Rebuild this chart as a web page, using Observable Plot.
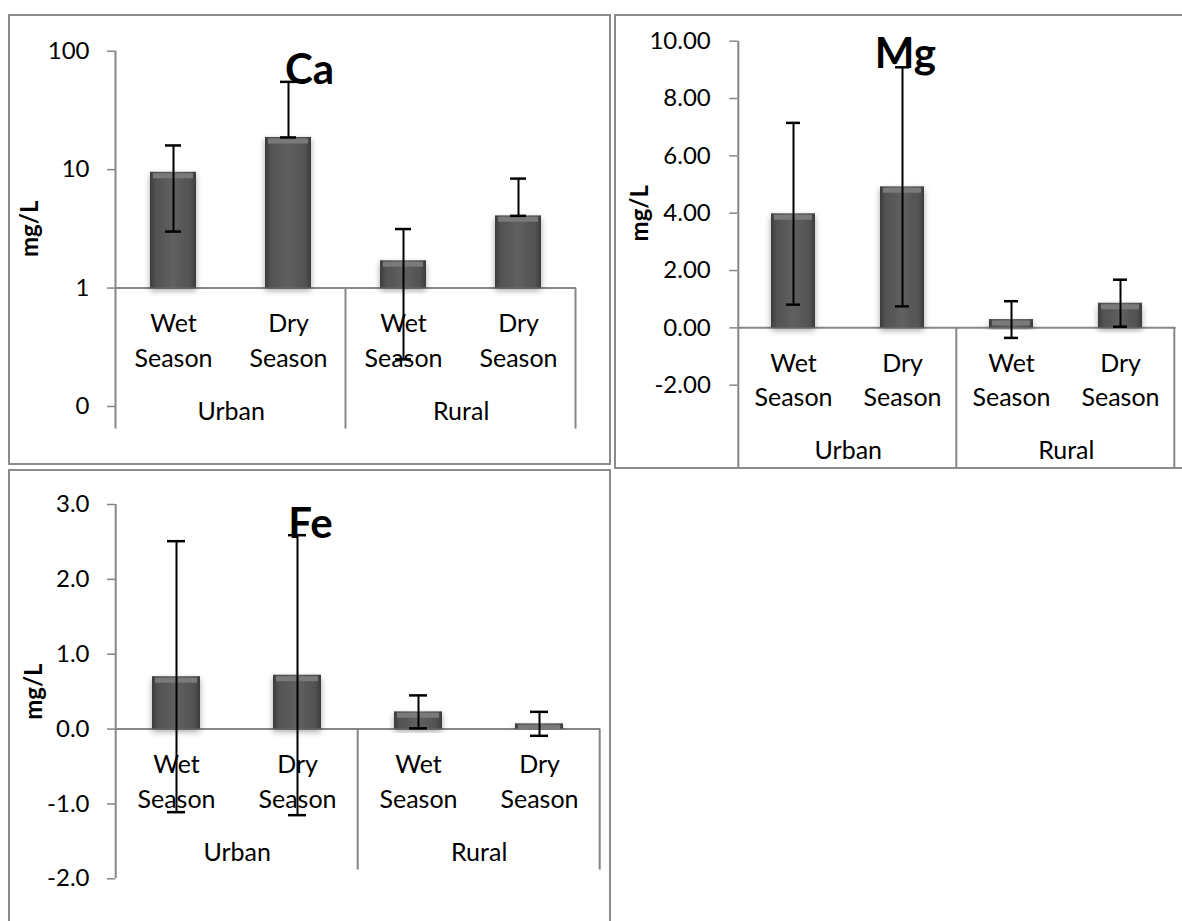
<!DOCTYPE html>
<html><head><meta charset="utf-8">
<script src="https://cdn.jsdelivr.net/npm/d3@7"></script>
<script src="https://cdn.jsdelivr.net/npm/@observablehq/plot@0.6"></script>
<style>
body{margin:0;background:#fff;}
#page{position:relative;width:1182px;height:921px;overflow:hidden;font-family:Lato,"Open Sans",sans-serif;background:#fff;}
.panel{position:absolute;border:2px solid #8c8c8c;box-sizing:border-box;background:#fff;}
.chart{position:absolute;}
</style></head><body>
<svg width="0" height="0" style="position:absolute"><defs>
<linearGradient id="barGrad" x1="0" x2="1" y1="0" y2="0">
 <stop offset="0" stop-color="#3c3c3c"/>
 <stop offset="0.12" stop-color="#525252"/>
 <stop offset="0.5" stop-color="#606060"/>
 <stop offset="0.88" stop-color="#525252"/>
 <stop offset="1" stop-color="#3c3c3c"/>
</linearGradient>
<filter id="shadow" x="-30%" y="-10%" width="160%" height="130%">
 <feDropShadow dx="0" dy="3" stdDeviation="3" flood-color="#000" flood-opacity="0.35"/>
</filter>
</defs></svg>
<div id="page"></div>
<script>
// ---- data ----
const categories = ["Urban|Wet Season", "Urban|Dry Season", "Rural|Wet Season", "Rural|Dry Season"];
const sites = ["Urban", "Urban", "Rural", "Rural"];
const seasons = ["Wet Season", "Dry Season", "Wet Season", "Dry Season"];
const groups = ["Urban", "Rural"];

const caMean = [9.5, 18.7, 1.7, 4.07];
const caSD = [6.5, 36.4, 1.45, 4.33];
const mgMean = [3.98, 4.92, 0.29, 0.86];
const mgSD = [3.17, 4.17, 0.64, 0.82];
const feMean = [0.70, 0.72, 0.23, 0.07];
const feSD = [1.81, 1.87, 0.22, 0.16];

const caTicks = [0.1, 1, 10, 100];
const mgTicks = [-2, 0, 2, 4, 6, 8, 10];
const feTicks = [-2, -1, 0, 1, 2, 3];

// ---- panels (frames) ----
const page = document.getElementById("page");
function panel(l, t, w, h) {
  const d = document.createElement("div");
  d.className = "panel";
  Object.assign(d.style, {left: l + "px", top: t + "px", width: w + "px", height: h + "px"});
  page.appendChild(d);
}
panel(8, 14, 603, 451);
panel(614, 14, 590, 455);
panel(8, 469, 603, 470);

const AXIS = "#868686";
const FONT = "Lato, 'Open Sans', sans-serif";

function makeChart(cfg) {
  const data = categories.map((key, i) => {
    const mean = cfg.mean[i], sd = cfg.sd[i];
    let lo = mean - sd;
    if (cfg.log && lo <= 0) lo = mean;
    return {key, site: sites[i], season: seasons[i], mean, hi: mean + sd, lo};
  });
  const innerW = cfg.width - cfg.ml - cfg.mr;
  const step = innerW / categories.length;
  const capInset = 15;
  const plot = Plot.plot({
    width: cfg.width, height: cfg.height,
    marginLeft: cfg.ml, marginRight: cfg.mr, marginTop: cfg.mt, marginBottom: cfg.mb,
    style: {fontFamily: FONT, background: "transparent", color: "#000", overflow: "visible"},
    x: {domain: categories, paddingInner: 0.6, paddingOuter: 0.3, axis: null},
    y: {type: cfg.log ? "log" : "linear", domain: cfg.domain},
    marks: [
      Plot.axisY({ticks: cfg.ticks, tickFormat: cfg.fmt, tickSize: 8, tickPadding: cfg.tickPadding,
        fontSize: 24, stroke: AXIS, strokeWidth: 1.5, label: null}),
      Plot.ruleY([cfg.cross], {stroke: AXIS, strokeWidth: 2}),
      Plot.barY(data, {x: "key", y1: cfg.cross, y2: "mean", fill: "url(#barGrad)"}),
      Plot.tickY(data, {x: "key", y: "mean", stroke: "#7a7a7a", strokeWidth: 5, dy: 3.5, insetLeft: 3, insetRight: 3}),
      Plot.ruleX(data, {x: "key", y1: "lo", y2: "hi", stroke: "#000", strokeWidth: 2}),
      Plot.tickY(data, {x: "key", y: "hi", stroke: "#000", strokeWidth: 2.5, insetLeft: capInset, insetRight: capInset}),
      Plot.tickY(data, {x: "key", y: "lo", stroke: "#000", strokeWidth: 2.5, insetLeft: capInset, insetRight: capInset}),
      Plot.text(data, {x: "key", y: () => cfg.cross, text: d => d.season.replace(" ", "\n"),
        lineAnchor: "bottom", dy: 78.5, lineHeight: 34.3 / 25, fontSize: 25, fill: "#000"}),
      Plot.text(groups, {x: g => categories[sites.indexOf(g)], y: () => cfg.cross, text: d => d,
        dx: step / 2, dy: 131.5, lineAnchor: "bottom", fontSize: 25, fill: "#000"}),
      Plot.text([cfg.title], {frameAnchor: "top", lineAnchor: "bottom", dx: cfg.titleDx, dy: cfg.titleDy,
        fontSize: 42, fontWeight: "bold", fill: "#000"}),
      Plot.text(["mg/L"], {frameAnchor: "left", textAnchor: "middle", lineAnchor: "middle", rotate: -90,
        dx: cfg.labelDx, fontSize: 24, fontWeight: "bold", fill: "#000"})
    ]
  });
  // decorations via the plot's own scales
  const sx = plot.scale("x"), sy = plot.scale("y");
  const s = sx.apply(categories[1]) - sx.apply(categories[0]);
  const bw = s * 0.4;
  const centers = categories.map(k => sx.apply(k) + bw / 2);
  const yc = sy.apply(cfg.cross);
  const depth = 141;
  const yTop = sy.apply(cfg.domain[1]);
  const yBot = Math.max(sy.apply(cfg.domain[0]), yc + depth);
  const svg = d3.select(plot);
  const g = svg.append("g").attr("stroke", AXIS).attr("stroke-width", 2);
  const xl = centers[0] - s / 2, xm = (centers[1] + centers[2]) / 2, xr = centers[3] + s / 2;
  g.append("line").attr("x1", xl).attr("x2", xl).attr("y1", yTop).attr("y2", yBot);
  g.append("line").attr("x1", xm).attr("x2", xm).attr("y1", yc).attr("y2", yc + depth);
  g.append("line").attr("x1", xr).attr("x2", xr).attr("y1", yc).attr("y2", yc + depth);
  svg.selectAll("g[aria-label='bar'] rect").attr("filter", "url(#shadow)");
  plot.classList.add("chart");
  Object.assign(plot.style, {position: "absolute", left: cfg.left + "px", top: cfg.top + "px"});
  page.appendChild(plot);
}

makeChart({title: "Ca", mean: caMean, sd: caSD, log: true, domain: [0.1, 100], ticks: caTicks,
  fmt: d => d.toFixed(0), cross: 1, left: 8, top: 15, width: 602, height: 449,
  ml: 107, mr: 34, mt: 35.7, mb: 58, tickPadding: 18, titleDx: -36.5, titleDy: 32.3, labelDx: -85});

makeChart({title: "Mg", mean: mgMean, sd: mgSD, log: false, domain: [-2, 10], ticks: mgTicks,
  fmt: d => d.toFixed(2), cross: 0, left: 614, top: 15, width: 568, height: 455,
  ml: 123.3, mr: 6.4, mt: 25.7, mb: 85.3, tickPadding: 19, titleDx: -51.5, titleDy: 26.3, labelDx: -97});

makeChart({title: "Fe", mean: feMean, sd: feSD, log: false, domain: [-2, 3], ticks: feTicks,
  fmt: d => d.toFixed(1), cross: 0, left: 8, top: 470, width: 602, height: 451,
  ml: 107, mr: 10, mt: 34, mb: 42.7, tickPadding: 18, titleDx: -47.5, titleDy: 33, labelDx: -81});
</script>
</body></html>
